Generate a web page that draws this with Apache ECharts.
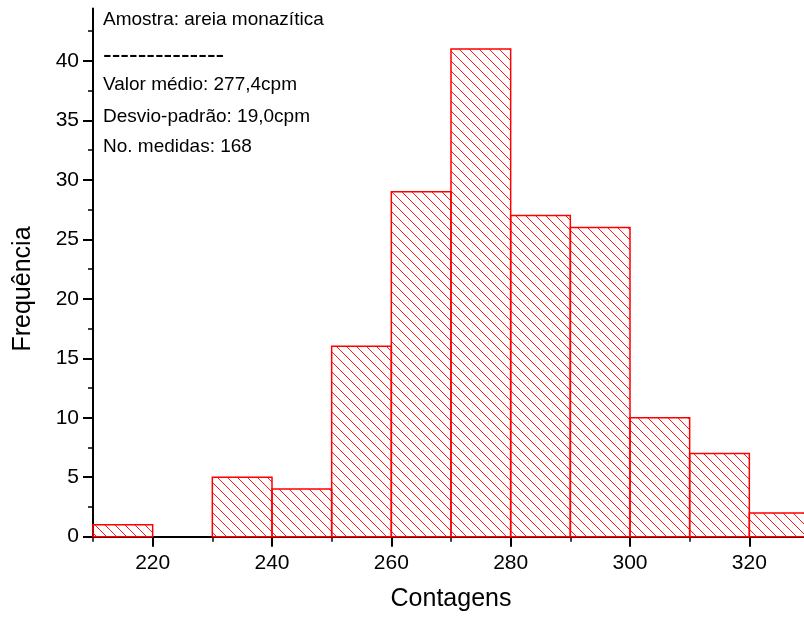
<!DOCTYPE html>
<html>
<head>
<meta charset="utf-8">
<script src="https://cdn.jsdelivr.net/npm/echarts@6/dist/echarts.min.js"></script>
<style>
  html, body { margin: 0; padding: 0; background: #fff; }
  #chart { width: 804px; height: 619px; }
</style>
</head>
<body>
<div id="chart"></div>
<script>
// Histogram of counts: bin edges (cpm) and frequency per bin
const binLower = [210, 220, 230, 240, 250, 260, 270, 280, 290, 300, 310, 320];
const binUpper = [220, 230, 240, 250, 260, 270, 280, 290, 300, 310, 320, 330];
const counts   = [1, 0, 5, 4, 16, 29, 41, 27, 26, 10, 7, 2];

// Axis tick values
const xMajorTicks = [220, 240, 260, 280, 300, 320];
const xMinorTicks = [210, 230, 250, 270, 290, 310, 330];
const yMajorTicks = [0, 5, 10, 15, 20, 25, 30, 35, 40];
const yMinorTicks = [2.5, 7.5, 12.5, 17.5, 22.5, 27.5, 32.5, 37.5, 42.5];

// Axis titles
const xTitle = 'Contagens';
const yTitle = 'Frequência';

// Info box lines
const infoLines = [
  'Amostra: areia monazítica',
  '--------------',
  'Valor médio: 277,4cpm',
  'Desvio-padrão: 19,0cpm',
  'No. medidas: 168'
];

const FONT = '"Liberation Sans", Arial, Helvetica, sans-serif';

// Diagonal hatch fill for the bars
function makeHatch() {
  const s = 10;
  const c = document.createElement('canvas');
  c.width = s; c.height = s;
  const g = c.getContext('2d');
  g.strokeStyle = 'rgba(255,0,0,0.9)';
  g.lineWidth = 1;
  g.beginPath();
  g.moveTo(-1, -1); g.lineTo(s + 1, s + 1);
  g.moveTo(s - 1, -1); g.lineTo(s + 1, 1);
  g.moveTo(-1, s - 1); g.lineTo(1, s + 1);
  g.stroke();
  return c;
}
const hatch = { image: makeHatch(), repeat: 'repeat' };

const data = binLower.map((lo, i) => [lo, binUpper[i], counts[i]]);

const chart = echarts.init(document.getElementById('chart'), null, { renderer: 'canvas' });

const X_MIN = 210, X_MAX = 330, Y_MIN = 0, Y_MAX = 44.4;

chart.setOption({
  animation: false,
  backgroundColor: '#ffffff',
  grid: { left: 93, right: -5, top: 8.5, bottom: 82.3, outerBoundsMode: 'none', containLabel: false },
  xAxis: [
    {
      type: 'value', min: X_MIN, max: X_MAX, position: 'bottom',
      name: xTitle, nameLocation: 'middle', nameGap: 50,
      nameTextStyle: { fontFamily: FONT, fontSize: 25, color: '#000' },
      axisLine: { show: true, onZero: false, lineStyle: { color: '#000', width: 2 } },
      axisTick: { show: true, inside: false, length: 10, customValues: xMajorTicks, lineStyle: { color: '#000', width: 2 } },
      axisLabel: { show: true, customValues: xMajorTicks, margin: 16, fontFamily: FONT, fontSize: 21, color: '#000' },
      splitLine: { show: false }
    },
    {
      type: 'value', min: X_MIN, max: X_MAX, position: 'bottom', gridIndex: 0,
      axisLine: { show: false },
      axisTick: { show: true, inside: false, length: 5, customValues: xMinorTicks, lineStyle: { color: '#000', width: 1.5 } },
      axisLabel: { show: false },
      splitLine: { show: false }
    }
  ],
  yAxis: [
    {
      type: 'value', min: Y_MIN, max: Y_MAX, position: 'left',
      axisLine: { show: true, onZero: false, lineStyle: { color: '#000', width: 2 } },
      axisTick: { show: true, inside: false, length: 10, customValues: yMajorTicks, lineStyle: { color: '#000', width: 2 } },
      axisLabel: { show: true, customValues: yMajorTicks, margin: 14, fontFamily: FONT, fontSize: 21, color: '#000' },
      splitLine: { show: false }
    },
    {
      type: 'value', min: Y_MIN, max: Y_MAX, position: 'left', gridIndex: 0,
      axisLine: { show: false },
      axisTick: { show: true, inside: false, length: 5, customValues: yMinorTicks, lineStyle: { color: '#000', width: 1.5 } },
      axisLabel: { show: false },
      splitLine: { show: false }
    }
  ],
  series: [{
    type: 'custom',
    xAxisIndex: 0, yAxisIndex: 0,
    data: data,
    renderItem: function (params, api) {
      const lo = api.value(0), hi = api.value(1), v = api.value(2);
      if (!v) return null;
      const p1 = api.coord([lo, v]);
      const p2 = api.coord([hi, 0]);
      return {
        type: 'rect',
        shape: { x: p1[0], y: p1[1], width: p2[0] - p1[0], height: p2[1] - p1[1] },
        style: { fill: hatch, stroke: '#ff0000', lineWidth: 1.5 }
      };
    },
    z: 1
  }],
  graphic: [
    // vertical axis title
    { type: 'text', x: 23, y: 289, rotation: Math.PI / 2,
      style: { text: yTitle, font: '25px ' + FONT, fill: '#000', align: 'center', verticalAlign: 'middle' } },
    // info box
    { type: 'text', x: 103, y: 20, style: { text: infoLines[0], font: '19px ' + FONT, fill: '#000', verticalAlign: 'middle' } },
    { type: 'text', x: 103, y: 56, style: { text: infoLines[1], font: '26px ' + FONT, fill: '#000', verticalAlign: 'middle' } },
    { type: 'text', x: 103, y: 85, style: { text: infoLines[2], font: '19px ' + FONT, fill: '#000', verticalAlign: 'middle' } },
    { type: 'text', x: 103, y: 116.5, style: { text: infoLines[3], font: '19px ' + FONT, fill: '#000', verticalAlign: 'middle' } },
    { type: 'text', x: 103, y: 146.5, style: { text: infoLines[4], font: '19px ' + FONT, fill: '#000', verticalAlign: 'middle' } }
  ]
});
</script>
</body>
</html>
